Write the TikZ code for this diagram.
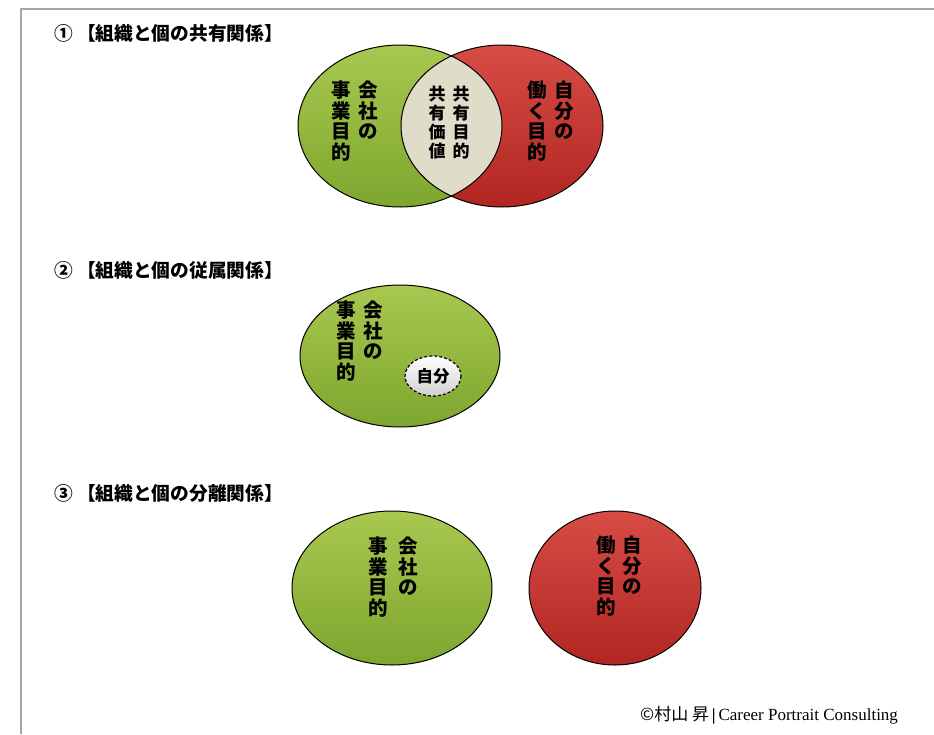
\documentclass[tikz,border=0pt]{standalone}
\usepackage{fontspec}
\setmainfont{Liberation Serif}
\newfontfamily\jp{Noto Sans CJK JP}
\definecolor{gtop}{RGB}{168,200,80}
\definecolor{gbot}{RGB}{126,166,46}
\definecolor{rtop}{RGB}{216,76,70}
\definecolor{rbot}{RGB}{178,38,34}
\definecolor{lenscol}{RGB}{224,220,202}
\definecolor{framecol}{RGB}{165,165,165}
\tikzset{
  title/.style={font=\jp\bfseries\fontsize{18.7}{21}\selectfont, anchor=west, inner sep=0pt},
  vtext/.style={font=\jp\bfseries\fontsize{19.5}{20.5}\selectfont, align=center, inner sep=0pt, anchor=north},
  vsmall/.style={font=\jp\bfseries\fontsize{17}{19}\selectfont, align=center, inner sep=0pt, anchor=north},
  greenfill/.style={top color=gtop, bottom color=gbot},
  redfill/.style={top color=rtop, bottom color=rbot},
  outline/.style={draw=black, line width=1pt},
}
\begin{document}
\begin{tikzpicture}[x=1pt,y=-1pt]
\useasboundingbox (0,0) rectangle (934,734);
\fill[white] (0,0) rectangle (934,734);
% frame
\draw[framecol, line width=1.5pt] (21,734) -- (21,9) -- (934,9);

% ---------- section 1 ----------
\node[title] (t1) at (54,33) {① 【組織と個の共有関係】};
\path[greenfill] (400,126) ellipse [x radius=102, y radius=81];
\path[redfill] (502,126) ellipse [x radius=101, y radius=81];
\begin{scope}
  \clip (400,126) ellipse [x radius=102, y radius=81];
  \fill[lenscol] (502,126) ellipse [x radius=101, y radius=81];
\end{scope}
\draw[outline] (400,126) ellipse [x radius=102, y radius=81];
\draw[outline] (502,126) ellipse [x radius=101, y radius=81];
\node[vtext] (g1a) at (368,81) {会\\社\\の};
\node[vtext] (g1b) at (341,81) {事\\業\\目\\的};
\node[vsmall] (l1a) at (461,86) {共\\有\\目\\的};
\node[vsmall] (l1b) at (437,86) {共\\有\\価\\値};
\node[vtext] (r1a) at (564,81) {自\\分\\の};
\node[vtext] (r1b) at (537,81) {働\\く\\目\\的};

% ---------- section 2 ----------
\node[title] (t2) at (54,270) {② 【組織と個の従属関係】};
\path[greenfill] (400,356) ellipse [x radius=100, y radius=71];
\draw[outline] (400,356) ellipse [x radius=100, y radius=71];
\node[vtext] (g2a) at (373,301) {会\\社\\の};
\node[vtext] (g2b) at (346,301) {事\\業\\目\\的};
\path[top color=white, bottom color=black!18] (433,376) ellipse [x radius=28, y radius=20];
\draw[line width=1.2pt, dashed, dash pattern=on 3pt off 2pt] (433,376) ellipse [x radius=28, y radius=20];
\node[font=\jp\bfseries\fontsize{16.5}{18}\selectfont, inner sep=0pt] (me) at (433,376) {自分};

% ---------- section 3 ----------
\node[title] (t3) at (54,493) {③ 【組織と個の分離関係】};
\path[greenfill] (392,588) ellipse [x radius=100, y radius=77];
\draw[outline] (392,588) ellipse [x radius=100, y radius=77];
\node[vtext] (g3a) at (408,537) {会\\社\\の};
\node[vtext] (g3b) at (378,537) {事\\業\\目\\的};
\path[redfill] (615,588) ellipse [x radius=86, y radius=77];
\draw[outline] (615,588) ellipse [x radius=86, y radius=77];
\node[vtext] (r3a) at (632,536) {自\\分\\の};
\node[vtext] (r3b) at (606,536) {働\\く\\目\\的};

% footer
\node[anchor=west, inner sep=0pt, font=\fontsize{17}{19}\selectfont] (foot) at (640,715)
  {{\jp ©村山 昇}\,{\bfseries|}\,Career Portrait Consulting};
\end{tikzpicture}
\end{document}
